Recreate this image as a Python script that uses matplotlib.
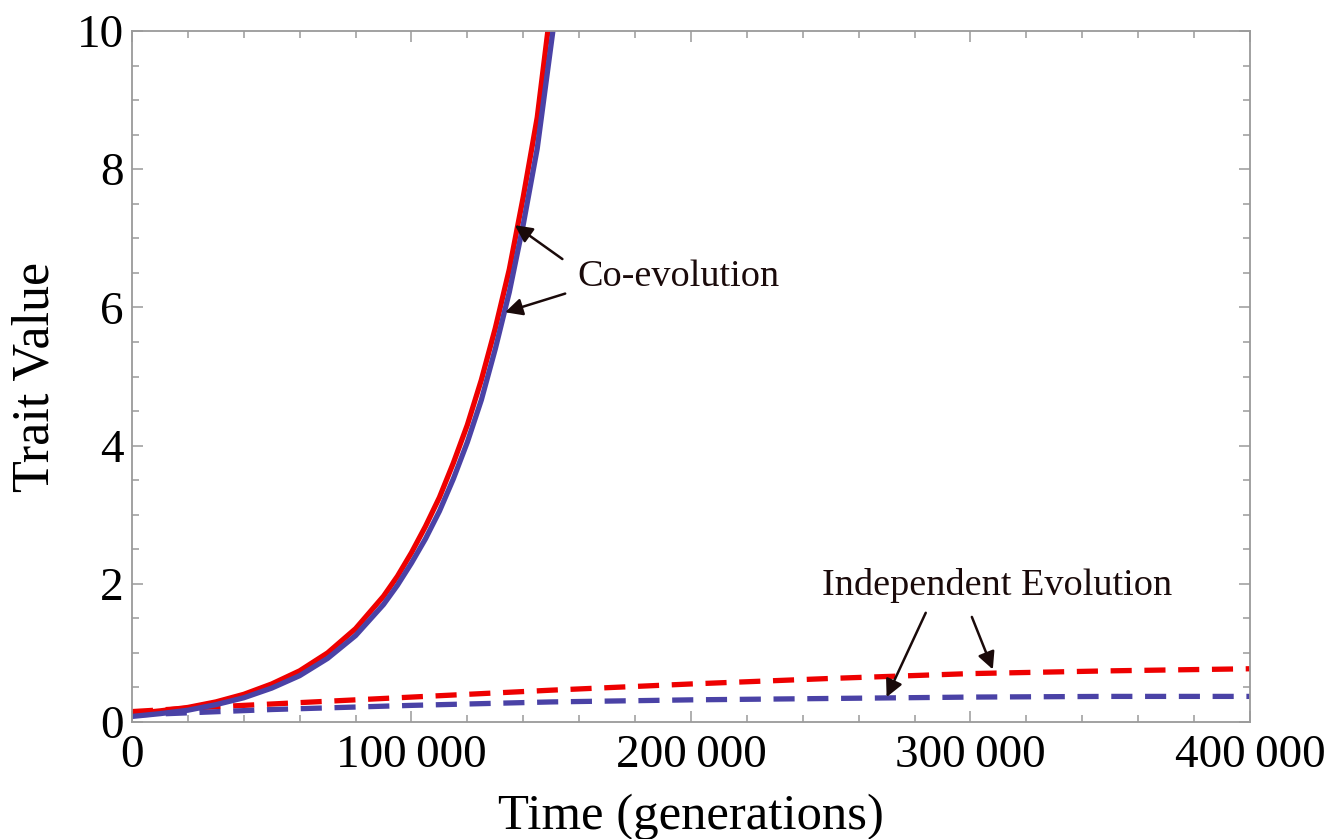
import numpy as np
import matplotlib
matplotlib.use("Agg")
import matplotlib.pyplot as plt
from matplotlib.ticker import MultipleLocator, FuncFormatter

plt.rcParams['font.family'] = ['Liberation Serif', 'DejaVu Serif']

# co-evolution trajectories (runaway)
t_coevo_red = [0, 10000, 20000, 30000, 40000, 50000, 60000, 70000, 80000,
               90000, 95000, 100000, 105000, 110000, 115000, 120000, 125000,
               130000, 135000, 140000, 145000, 148800]
z_coevo_red = [0.12, 0.16, 0.21, 0.29, 0.40, 0.55, 0.74, 1.00, 1.35,
               1.82, 2.11, 2.45, 2.83, 3.25, 3.75, 4.30, 4.95,
               5.70, 6.55, 7.60, 8.75, 10.0]
t_coevo_blue = [0, 10000, 20000, 30000, 40000, 50000, 60000, 70000, 80000,
                90000, 95000, 100000, 105000, 110000, 115000, 120000, 125000,
                130000, 135000, 140000, 145000, 150600]
z_coevo_blue = [0.08, 0.12, 0.17, 0.25, 0.35, 0.49, 0.67, 0.92, 1.25,
                1.70, 1.98, 2.30, 2.65, 3.05, 3.52, 4.05, 4.66,
                5.40, 6.22, 7.20, 8.30, 10.0]

# independent evolution (saturating)
t_indep = [0, 25000, 50000, 75000, 100000, 150000, 200000, 250000, 300000, 350000, 400000]
z_indep_red = [0.15, 0.21, 0.26, 0.31, 0.36, 0.46, 0.55, 0.63, 0.70, 0.74, 0.77]
z_indep_blue = [0.10, 0.14, 0.18, 0.21, 0.24, 0.29, 0.32, 0.34, 0.36, 0.37, 0.37]

RED = '#ee0000'
BLUE = '#4a42a6'

fig = plt.figure(figsize=(13.33, 8.39), dpi=100)
ax = fig.add_axes([0.099, 0.1395, 0.8387, 0.8235])

lw = 3.8
ax.plot(t_indep, z_indep_red, color=RED, lw=lw, dashes=(4, 2.4))
ax.plot(t_indep, z_indep_blue, color=BLUE, lw=lw, dashes=(4, 2.4))
ax.plot(t_coevo_red, z_coevo_red, color=RED, lw=lw)
ax.plot(t_coevo_blue, z_coevo_blue, color=BLUE, lw=lw)

ax.set_xlim(0, 400000)
ax.set_ylim(0, 10)

ax.xaxis.set_major_locator(MultipleLocator(100000))
ax.xaxis.set_minor_locator(MultipleLocator(20000))
ax.yaxis.set_major_locator(MultipleLocator(2))
ax.yaxis.set_minor_locator(MultipleLocator(0.5))

def thousands(v, pos):
    v = int(round(v))
    if v < 1000:
        return str(v)
    return f"{v:,}".replace(',', '\u2009')

ax.xaxis.set_major_formatter(FuncFormatter(thousands))

frame_col = '#9a9a9a'
for sp in ax.spines.values():
    sp.set_color(frame_col)
    sp.set_linewidth(1.3)
ax.tick_params(which='both', direction='in', top=True, right=True,
               color=frame_col, labelsize=34, width=1.1)
ax.tick_params(which='major', length=8)
ax.tick_params(which='minor', length=5)
ax.tick_params(axis='x', pad=9)
ax.tick_params(axis='y', pad=6)

ax.set_xlabel('Time (generations)', fontsize=36.5, labelpad=12)
ax.set_ylabel('Trait Value', fontsize=37.5, labelpad=12)

txt_col = '#1a0a0a'
arrow = dict(arrowstyle='-|>', color=txt_col, lw=1.8, mutation_scale=26,
             shrinkA=0, shrinkB=0)

ax.text(159500, 6.45, 'Co-evolution', fontsize=27.5, color=txt_col, va='center')
ax.annotate('', xy=(137000, 7.19), xytext=(154000, 6.7), arrowprops=arrow)
ax.annotate('', xy=(133500, 5.93), xytext=(155000, 6.2), arrowprops=arrow)

ax.text(247000, 1.98, 'Independent Evolution', fontsize=27.5, color=txt_col, va='center')
ax.annotate('', xy=(270000, 0.36), xytext=(284000, 1.58), arrowprops=arrow)
ax.annotate('', xy=(308000, 0.76), xytext=(300500, 1.52), arrowprops=arrow)

plt.savefig('out.png', dpi=100)
